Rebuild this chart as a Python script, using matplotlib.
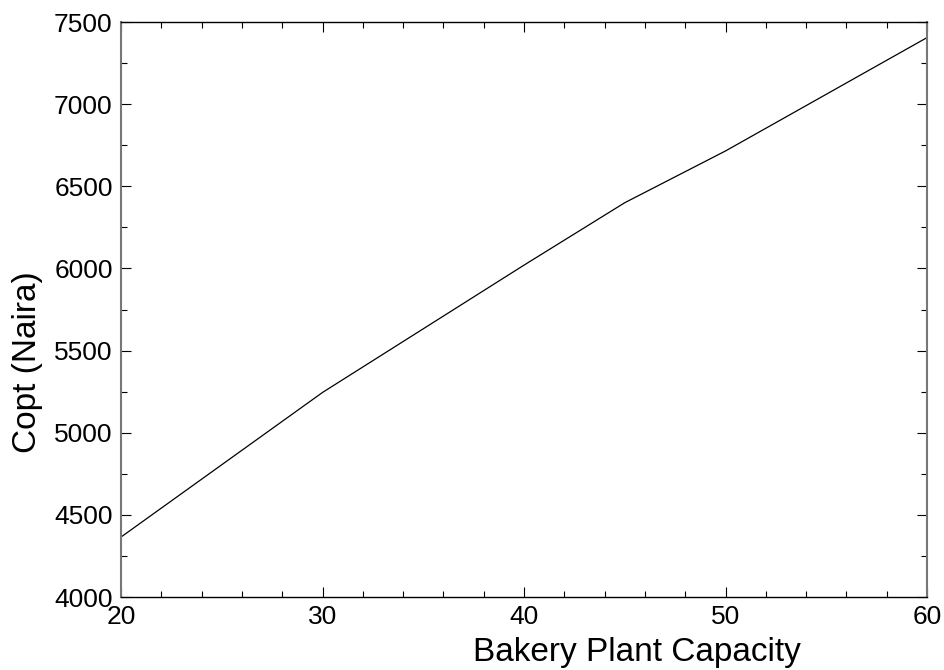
import matplotlib
matplotlib.use("Agg")
import matplotlib.pyplot as plt
from matplotlib.ticker import MultipleLocator

capacity = [20, 30, 40, 45, 50, 60]
copt = [4365, 5245, 6020, 6400, 6715, 7405]
x_label = "Bakery Plant Capacity"
y_label = "Copt (Naira)"

plt.rcParams['font.family'] = ['Liberation Sans', 'DejaVu Sans']
fig = plt.figure(figsize=(9.45, 6.7), dpi=100)
ax = fig.add_axes([121/945, 73/670, 806/945, 575/670])
ax.plot(capacity, copt, color='black', linewidth=0.9)
ax.set_xlim(20, 60)
ax.set_ylim(4000, 7500)
ax.xaxis.set_major_locator(MultipleLocator(10))
ax.xaxis.set_minor_locator(MultipleLocator(2))
ax.yaxis.set_major_locator(MultipleLocator(500))
ax.yaxis.set_minor_locator(MultipleLocator(250))
ax.tick_params(which='both', direction='in', top=True, right=True, labelsize=19, width=0.8)
ax.tick_params(which='major', length=7)
ax.tick_params(which='minor', length=4)
ax.tick_params(axis='x', pad=6)
ax.tick_params(axis='y', pad=6)
for s in ['top', 'bottom']:
    ax.spines[s].set_linewidth(1.0)
for s in ['left', 'right']:
    ax.spines[s].set_linewidth(1.5)
    ax.spines[s].set_color('#777777')
fig.text(637/945, 1 - 652/670, x_label, ha='center', va='center', fontsize=24)
fig.text(28/945, 1 - 362/670, y_label, ha='center', va='center', rotation=90, fontsize=24)
fig.savefig("out.png", dpi=100)
